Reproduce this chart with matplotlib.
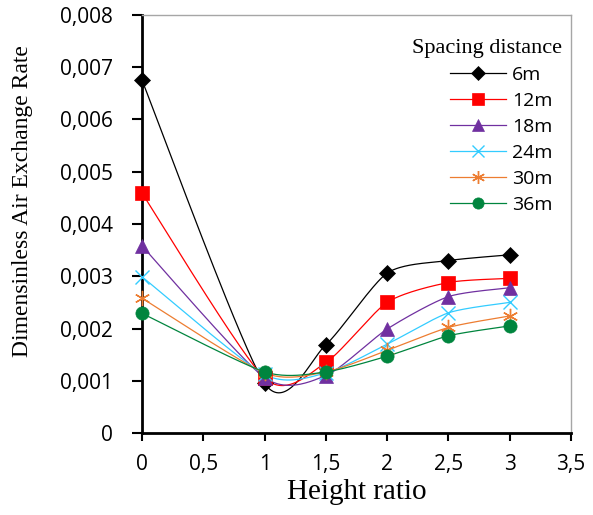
import matplotlib.pyplot as plt
import numpy as np

height_ratio = [0, 1, 1.5, 2, 2.5, 3]
spacing_labels = ['6m', '12m', '18m', '24m', '30m', '36m']
rate_6m = [0.00675, 0.00095, 0.00169, 0.00306, 0.00330, 0.00341]
rate_12m = [0.00459, 0.00105, 0.00135, 0.00250, 0.00288, 0.00296]
rate_18m = [0.00358, 0.00106, 0.00110, 0.00199, 0.00261, 0.00278]
rate_24m = [0.00299, 0.00112, 0.00115, 0.00170, 0.00230, 0.00250]
rate_30m = [0.00258, 0.00115, 0.00117, 0.00158, 0.00202, 0.00224]
rate_36m = [0.00229, 0.00117, 0.00117, 0.00147, 0.00186, 0.00205]

series = [rate_6m, rate_12m, rate_18m, rate_24m, rate_30m, rate_36m]
colors = ['#000000', '#FF0000', '#7030A0', '#33CCFF', '#ED7D31', '#00853E']
markers = ['D', 's', '^', 'x', (6, 2, 0), 'o']
msizes = [8, 10, 10, 10, 11, 9.5]


def smooth(xs, ys, k=0.12, n=40):
    # smoothed line: cardinal spline segments drawn as cubic Beziers
    p = np.column_stack([xs, ys]).astype(float)
    p = np.vstack([p[0], p, p[-1]])
    out = []
    t = np.linspace(0, 1, n)[:, None]
    for i in range(1, len(p) - 2):
        p0, p1, p2, p3 = p[i - 1], p[i], p[i + 1], p[i + 2]
        c1 = p1 + (p2 - p0) * k
        c2 = p2 - (p3 - p1) * k
        seg = ((1 - t) ** 3) * p1 + 3 * ((1 - t) ** 2) * t * c1 + 3 * (1 - t) * t ** 2 * c2 + t ** 3 * p2
        out.append(seg if i == 1 else seg[1:])
    out = np.vstack(out)
    return out[:, 0], out[:, 1]


fig = plt.figure(figsize=(5.93, 5.15), dpi=100)
ax = fig.add_axes([0.2395, 0.1592, 0.7234, 0.8117])

handles = []
for ys, c, m, ms, lab in zip(series, colors, markers, msizes, spacing_labels):
    mew = 1.0 if m in ('x', (6, 2, 0)) else 0.5
    sx, sy = smooth(height_ratio, ys)
    ax.plot(sx, sy, '-', color=c, lw=0.9)
    ax.plot(height_ratio, ys, linestyle='none', marker=m, ms=ms, color=c,
            mec=c, mew=mew, clip_on=False, zorder=3)
    h, = ax.plot([], [], '-', color=c, lw=0.9, marker=m, ms=ms * 0.85, mec=c, mew=mew)
    handles.append(h)

ax.set_xlim(0, 3.5)
ax.set_ylim(0, 0.008)
ax.set_xticks(np.arange(0, 3.51, 0.5))
ax.set_yticks(np.arange(0, 0.0081, 0.001))
ax.set_xticklabels(['0', '0,5', '1', '1,5', '2', '2,5', '3', '3,5'],
                   family='Open Sans', fontsize=15)
ax.set_yticklabels(['0'] + ['0,00%d' % i for i in range(1, 9)],
                   family='Open Sans', fontsize=15)
ax.tick_params(axis='x', direction='out', length=6, width=1.5, pad=9)
ax.tick_params(axis='y', direction='out', length=7, width=1.5, pad=14)

for s in ['left', 'bottom']:
    ax.spines[s].set_linewidth(2)
for s in ['top', 'right']:
    ax.spines[s].set_color('#A6A6A6')
    ax.spines[s].set_linewidth(1)

ax.set_xlabel('Height ratio', family='Liberation Serif', fontsize=21, labelpad=3)
ax.set_ylabel('Dimensinless Air Exchange Rate', family='Liberation Serif', fontsize=17)
ax.yaxis.set_label_coords(-0.255, 0.555)

fig.text(487 / 593, 1 - 48 / 515, 'Spacing distance', family='Liberation Serif',
         fontsize=16, ha='center', va='center')
leg = ax.legend(handles, spacing_labels, loc='upper left',
                bbox_to_anchor=(450 / 593, 1 - 66 / 515), bbox_transform=fig.transFigure,
                frameon=False, prop={'family': 'Open Sans', 'size': 14},
                handlelength=2.9, handletextpad=0.3, labelspacing=0.41,
                borderpad=0, borderaxespad=0)

fig.savefig('out.png', dpi=100)
